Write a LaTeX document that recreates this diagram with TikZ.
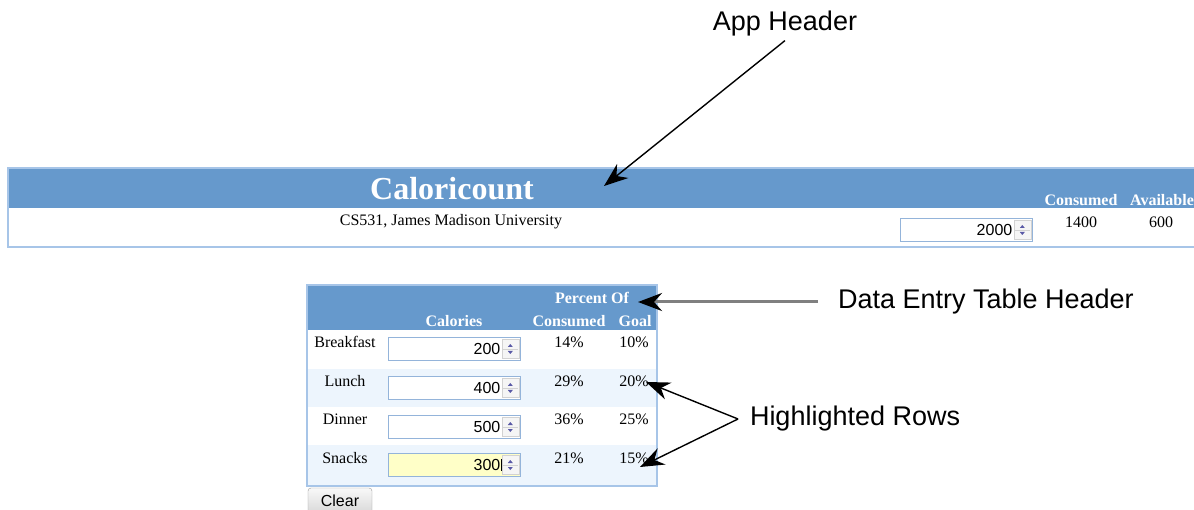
\documentclass[tikz,border=0pt]{standalone}
\usepackage{fontspec}
\setmainfont{Liberation Serif}
\newfontfamily\uisans{Liberation Sans}
\usetikzlibrary{positioning,arrows.meta}

\definecolor{hdrblue}{HTML}{6699CC}
\definecolor{panelline}{HTML}{A7C5E8}
\definecolor{rowblue}{HTML}{EDF5FD}
\definecolor{fieldline}{HTML}{94B4DA}
\definecolor{editfill}{HTML}{FFFFC8}

\tikzset{
  hdrtext/.style={text=white, font=\fontsize{16}{16}\selectfont\bfseries, inner sep=0},
  celltext/.style={font=\fontsize{16}{16}\selectfont, inner sep=0},
  field/.style={draw=fieldline, fill=white, line width=1pt, minimum width=132pt, minimum height=23pt, inner sep=0},
  fieldnum/.style={font=\uisans\fontsize{16}{16}\selectfont, inner sep=0},
  spinner/.style={draw=gray!35, fill=gray!8, minimum width=17pt, minimum height=19pt, inner sep=0,
    path picture={
      \coordinate (sp) at (path picture bounding box.center);
      \draw[gray!35] ([xshift=-8pt]sp) -- ([xshift=8pt]sp);
      \fill[blue!30!gray] ([yshift=2pt]sp) ++(-2.5pt,0) -- ++(5pt,0) -- ++(-2.5pt,3pt) -- cycle;
      \fill[blue!30!gray] ([yshift=-2pt]sp) ++(-2.5pt,0) -- ++(5pt,0) -- ++(-2.5pt,-3pt) -- cycle;
    }},
  note/.style={font=\uisans\fontsize{27}{27}\selectfont, inner sep=0},
  callout/.style={line width=1.4pt, -{Stealth[length=24pt, width=18pt, inset=8pt]}},
}

\begin{document}
\begin{tikzpicture}[x=1pt, y=-1pt]
\useasboundingbox (0,0) rectangle (1194,510);

% app header panel
\draw[panelline, line width=1.5pt, fill=white] (8,168) rectangle (1210,247);
\fill[hdrblue] (8.75,168.75) rectangle (1210,208);
\node[text=white, font=\fontsize{32}{32}\selectfont\bfseries, inner sep=0] (app_title) at (452,189) {Caloricount};
\node[celltext] (app_sub) at (451,222) {CS531, James Madison University};
\node[hdrtext] (hd_cons) at (1081,200) {Consumed};
\node[hdrtext] (hd_avail) at (1162,200) {Available};
\node[celltext] (val_cons) at (1081,222) {1400};
\node[celltext] (val_avail) at (1161,222) {600};
\node[field] (in_goal) at (966,230) {};
\node[spinner] (sp_goal) [left=1.5pt of in_goal.east] {};
\node[fieldnum] (v_goal) [left=20pt of in_goal.east] {2000};

% data entry table
\draw[panelline, line width=1.5pt, fill=white] (307,285) rectangle (657,486);
\fill[hdrblue] (308,286) rectangle (656,330);
\fill[rowblue] (308,369) rectangle (656,407);
\fill[rowblue] (308,445) rectangle (656,485);
\node[hdrtext] (th_pct) at (592,298) {Percent Of};
\node[hdrtext] (th_cal) at (454,321) {Calories};
\node[hdrtext] (th_cons) at (569,321) {Consumed};
\node[hdrtext] (th_goal) at (635,321) {Goal};

\node[celltext] (lbl_bf) at (345,342) {Breakfast};
\node[celltext] (lbl_lu) at (345,381) {Lunch};
\node[celltext] (lbl_di) at (345,419) {Dinner};
\node[celltext] (lbl_sn) at (345,458) {Snacks};

\node[field] (in_bf) at (454,349) {};
\node[field] (in_lu) at (454,388) {};
\node[field] (in_di) at (454,427) {};
\node[field, fill=editfill] (in_sn) at (454,465) {};
\node[spinner] (sp_bf) [left=1.5pt of in_bf.east] {};
\node[spinner] (sp_lu) [left=1.5pt of in_lu.east] {};
\node[spinner] (sp_di) [left=1.5pt of in_di.east] {};
\node[spinner] (sp_sn) [left=1.5pt of in_sn.east] {};
\node[fieldnum] (v_bf) [left=20pt of in_bf.east] {200};
\node[fieldnum] (v_lu) [left=20pt of in_lu.east] {400};
\node[fieldnum] (v_di) [left=20pt of in_di.east] {500};
\node[fieldnum] (v_sn) [left=20pt of in_sn.east] {300};
\draw[line width=0.8pt] ([xshift=1pt]v_sn.south east) -- ([xshift=1pt]v_sn.north east);

\node[celltext] (pc_bf) at (569,342) {14\%};
\node[celltext] (pc_lu) at (569,381) {29\%};
\node[celltext] (pc_di) at (569,419) {36\%};
\node[celltext] (pc_sn) at (569,458) {21\%};
\node[celltext] (pg_bf) at (634,342) {10\%};
\node[celltext] (pg_lu) at (634,381) {20\%};
\node[celltext] (pg_di) at (634,419) {25\%};
\node[celltext] (pg_sn) at (634,458) {15\%};

\node[draw=gray!80, rounded corners=3pt, top color=gray!5, bottom color=gray!30, minimum width=64pt, minimum height=25pt, inner sep=0, font=\uisans\fontsize{16}{16}\selectfont] (btn_clear) at (340,500.5) {Clear};

% callouts
\node[note, outer ysep=4pt] (app_note) at (785,24) {App Header};
\node[note, anchor=west, outer xsep=20pt] (dat_note) at (818,302) {Data Entry Table Header};
\node[note, anchor=west, outer xsep=12pt] (hl_note) at (738,419) {Highlighted Rows};
\coordinate (app_tip) at (604,186);
\coordinate (dat_tip) at (638,302);
\coordinate (hl_tip1) at (646,382);
\coordinate (hl_tip2) at (640,467);

\path[callout] (app_note.south) edge (app_tip);
\draw[gray, line width=3pt, -{Stealth[length=24pt, width=18pt, inset=8pt, color=black]}] (dat_note.west) -- (dat_tip);
\path[callout] (hl_note.west) edge (hl_tip1);
\path[callout] (hl_note.west) edge (hl_tip2);

\end{tikzpicture}
\end{document}
